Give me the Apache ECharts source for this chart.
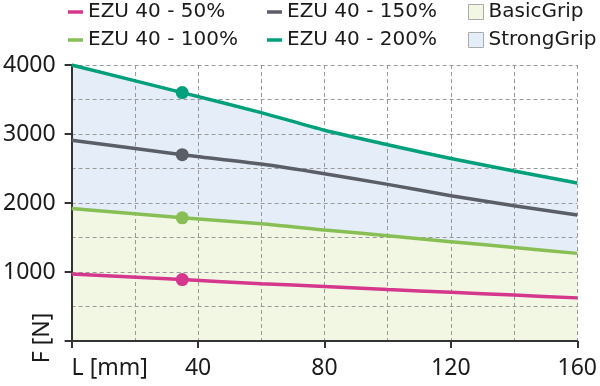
<!DOCTYPE html>
<html><head><meta charset="utf-8">
<script src="https://cdn.jsdelivr.net/npm/echarts@6/dist/echarts.min.js"></script>
<style>html,body{margin:0;padding:0;background:#fff}#c{width:600px;height:386px}</style>
</head><body><div id="c"></div>
<script>
const xs = [0, 35, 60, 80, 100, 120, 140, 160];
const ezu50  = [970, 890, 830, 790, 745, 705, 665, 625];
const ezu100 = [1920, 1785, 1700, 1610, 1525, 1440, 1355, 1270];
const ezu150 = [2910, 2700, 2565, 2425, 2270, 2105, 1960, 1825];
const ezu200 = [4000, 3600, 3310, 3055, 2845, 2645, 2465, 2290];
const markX = 35;
const names = ['EZU 40 - 50%', 'EZU 40 - 100%', 'EZU 40 - 150%', 'EZU 40 - 200%'];
const colors = ['#d4378c', '#88bf55', '#5b5e66', '#00a07b'];
const zoneNames = ['BasicGrip', 'StrongGrip'];
const zoneColors = ['#f2f7e4', '#e5edf8'];
const xTicks = [0, 40, 80, 120, 160];
const yTicks = [0, 1000, 2000, 3000, 4000];

const pts = arr => xs.map((x, i) => [x, arr[i]]);
const FONT = 'Noto Sans';
const lineSeries = [ezu50, ezu100, ezu150, ezu200].map((arr, i) => ({
  name: names[i], type: 'line', data: pts(arr), smooth: 0.25,
  color: colors[i],
  lineStyle: {width: 3.5, color: colors[i]},
  itemStyle: {color: colors[i]},
  symbol: 'circle', showSymbol: true,
  symbolSize: v => v[0] === markX ? 13 : 0,
  z: 5, silent: true
}));
const areaSeries = [
  {name: zoneNames[1], type: 'line', data: pts(ezu200), smooth: 0.25, color: zoneColors[1],
   lineStyle: {width: 0}, symbol: 'none', areaStyle: {color: zoneColors[1], opacity: 1}, z: 1, silent: true},
  {name: zoneNames[0], type: 'line', data: pts(ezu100), smooth: 0.25, color: zoneColors[0],
   lineStyle: {width: 0}, symbol: 'none', areaStyle: {color: zoneColors[0], opacity: 1}, z: 2, silent: true}
];
const legText = {fontFamily: 'DejaVu Sans', fontSize: 20, color: '#1a1a1a', lineHeight: 20};
const lineLegend = (left, items) => ({
  orient: 'vertical', left: left, top: -3, itemGap: 8, itemWidth: 15, itemHeight: 3.5,
  icon: 'rect', textStyle: legText, selectedMode: false, itemStyle: {borderWidth: 0},
  data: items
});
const dash = {color: '#999', width: 1, type: [4, 3]};
const option = {
  animation: false,
  backgroundColor: '#fff',
  grid: {left: 69, right: 19, top: 65, bottom: 45, containLabel: false},
  legend: [
    lineLegend(63, [names[0], names[1]]),
    lineLegend(262, [names[2], names[3]]),
    {orient: 'vertical', left: 463, top: -3, itemGap: 8, itemWidth: 15, itemHeight: 15,
     icon: 'rect', textStyle: legText, selectedMode: false,
     data: zoneNames.map((n, i) => ({name: n, itemStyle: {color: zoneColors[i], borderColor: '#aaa', borderWidth: 1}}))}
  ],
  xAxis: {
    type: 'value', min: 0, max: 160, interval: 40, z: 3,
    axisLine: {show: true, onZero: false, lineStyle: {color: '#333', width: 2}},
    axisTick: {show: true, length: 7, lineStyle: {color: '#333', width: 2}},
    axisLabel: {margin: 16, fontFamily: FONT, fontSize: 23, color: '#1a1a1a', alignMinLabel: 'left',
      formatter: v => v === 0 ? 'L [mm]' : (xTicks.includes(v) ? String(v) : '')},
    splitLine: {show: true, lineStyle: dash},
    minorTick: {show: false, splitNumber: 2},
    minorSplitLine: {show: true, lineStyle: dash}
  },
  yAxis: {
    type: 'value', min: 0, max: 4000, interval: 1000, z: 3,
    axisLine: {show: true, lineStyle: {color: '#333', width: 2}},
    axisTick: {show: true, length: 7, lineStyle: {color: '#333', width: 2}},
    axisLabel: {margin: 16, fontFamily: FONT, fontSize: 23, color: '#1a1a1a',
      formatter: v => v === 0 ? '' : (yTicks.includes(v) ? String(v) : '')},
    splitLine: {show: true, lineStyle: dash},
    minorTick: {show: false, splitNumber: 2},
    minorSplitLine: {show: true, lineStyle: dash}
  },
  graphic: [{
    type: 'text', x: 42, y: 338, rotation: Math.PI / 2,
    style: {text: 'F [N]', font: '23px "Noto Sans"', fill: '#1a1a1a', align: 'center', verticalAlign: 'middle'}
  }],
  series: [...areaSeries, ...lineSeries]
};
const chart = echarts.init(document.getElementById('c'), null, {renderer: 'canvas'});
chart.setOption(option);
</script>
</body></html>
